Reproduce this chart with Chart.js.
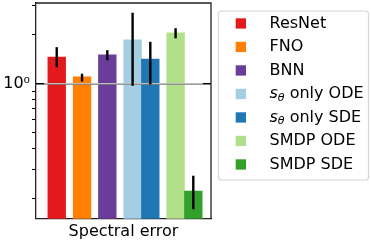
<!DOCTYPE html>
<html>
<head>
<meta charset="utf-8">
<script src="https://cdn.jsdelivr.net/npm/chart.js@4"></script>
<style>
  html, body { margin: 0; padding: 0; background: #fff; }
  #wrap { width: 371px; height: 243px; }
</style>
</head>
<body>
<div id="wrap"><canvas id="errChart"></canvas></div>
<script>
// -----------------------------
// Data
// -----------------------------
const methods = ["ResNet", "FNO", "BNN", "sθ only ODE", "sθ only SDE", "SMDP ODE", "SMDP SDE"];
const barX = [0, 1, 2, 3, 3.7, 4.7, 5.4];
const spectralError = [1.45, 1.10, 1.50, 1.85, 1.41, 2.04, 0.221];
const errLow = [1.26, 1.03, 1.39, 0.97, 0.99, 1.89, 0.171];
const errHigh = [1.67, 1.15, 1.60, 2.71, 1.80, 2.18, 0.274];
const yTicks = [0.2, 0.3, 0.4, 0.5, 0.6, 0.7, 0.8, 0.9, 1, 2, 3];
const colors = ["#e31a1c", "#ff7f00", "#6a3d9a", "#a6cee3", "#1f78b4", "#b2df8a", "#33a02c"];

Chart.defaults.font.family = "'DejaVu Sans'";
Chart.defaults.color = "#000";

// -----------------------------
// Reference line, error bars, frame
// -----------------------------
const frameAndErrors = {
  id: "frameAndErrors",
  afterDatasetsDraw(chart) {
    const { ctx, chartArea: a, scales: { x, y } } = chart;
    const y1 = y.getPixelForValue(1);
    ctx.save();

    ctx.lineWidth = 1.5;
    ctx.strokeStyle = "#000";
    ctx.beginPath();
    ctx.moveTo(a.left, y1);
    ctx.lineTo(a.right, y1);
    ctx.stroke();
    ctx.strokeStyle = "#bdbdbd";
    ctx.beginPath();
    ctx.moveTo(x.getPixelForValue(-0.5), y1);
    ctx.lineTo(x.getPixelForValue(5.78), y1);
    ctx.stroke();

    ctx.strokeStyle = "#000";
    ctx.lineWidth = 2.4;
    barX.forEach((bx, i) => {
      const px = x.getPixelForValue(bx);
      ctx.beginPath();
      ctx.moveTo(px, y.getPixelForValue(errLow[i]));
      ctx.lineTo(px, y.getPixelForValue(errHigh[i]));
      ctx.stroke();
    });

    ctx.strokeStyle = "#222";
    ctx.lineWidth = 1.3;
    ctx.beginPath();
    ctx.moveTo(a.left, a.top);
    ctx.lineTo(a.right, a.top);
    ctx.lineTo(a.right, a.bottom);
    ctx.stroke();
    ctx.restore();
  }
};

// -----------------------------
// Boxed legend on the right
// -----------------------------
const boxLegend = {
  id: "boxLegend",
  afterDraw(chart) {
    const ctx = chart.ctx;
    const left = chart.chartArea.right + 7.5;
    const top = 11;
    ctx.save();
    ctx.strokeStyle = "#d6d6d6";
    ctx.lineWidth = 1.2;
    ctx.beginPath();
    ctx.roundRect(left, top, 150, 169, 3);
    ctx.stroke();

    ctx.textBaseline = "middle";
    methods.forEach((m, i) => {
      const cy = 23.5 + i * 23.5;
      ctx.fillStyle = colors[i];
      ctx.fillRect(left + 17.2, cy - 5.2, 10.3, 10.3);
      ctx.fillStyle = "#000";
      let tx = left + 51;
      let rest = m;
      if (m.startsWith("sθ")) {
        ctx.font = "italic 16px 'DejaVu Sans'";
        ctx.fillText("s", tx, cy);
        tx += ctx.measureText("s").width;
        ctx.font = "italic 11px 'DejaVu Sans'";
        ctx.fillText("θ", tx, cy + 4);
        tx += ctx.measureText("θ").width;
        rest = m.slice(2);
      }
      ctx.font = "16px 'DejaVu Sans'";
      ctx.fillText(rest, tx, cy);
    });
    ctx.restore();
  }
};

// -----------------------------
// Chart
// -----------------------------
new Chart(document.getElementById("errChart"), {
  type: "bar",
  data: {
    datasets: [{
      data: barX.map((bx, i) => ({ x: bx, y: spectralError[i] })),
      backgroundColor: colors,
      categoryPercentage: 1,
      barPercentage: 1
    }]
  },
  options: {
    responsive: true,
    maintainAspectRatio: false,
    animation: false,
    layout: { autoPadding: false, padding: { left: 3, top: 3, right: 160, bottom: 0 } },
    plugins: { legend: { display: false }, tooltip: { enabled: false } },
    scales: {
      x: {
        type: "linear",
        offset: false,
        min: -0.82,
        max: 6.1,
        grid: { display: false, drawTicks: false },
        ticks: { display: false },
        border: { display: true, color: "#222", width: 1.3 },
        title: {
          display: true,
          text: "Spectral error",
          font: { size: 16 },
          padding: { top: 3, bottom: 2 }
        }
      },
      y: {
        type: "logarithmic",
        min: 0.1495,
        max: 3.107,
        afterBuildTicks: scale => {
          scale.ticks = yTicks.map(v => ({ value: v, major: v === 1 }));
        },
        afterFit: scale => {
          scale.width = 33;
          scale.paddingTop = 0;
          scale.paddingBottom = 0;
        },
        ticks: {
          callback: v => (v === 1 ? "10⁰" : ""),
          font: { size: 16 },
          padding: 2,
          autoSkip: false
        },
        grid: {
          drawOnChartArea: false,
          drawTicks: true,
          tickLength: 4,
          color: "#000",
          tickColor: c => (c.tick && c.tick.value === 1 ? "rgba(0,0,0,0)" : "#000")
        },
        border: { color: "#222", width: 1.3 }
      }
    }
  },
  plugins: [frameAndErrors, boxLegend]
});
</script>
</body>
</html>
